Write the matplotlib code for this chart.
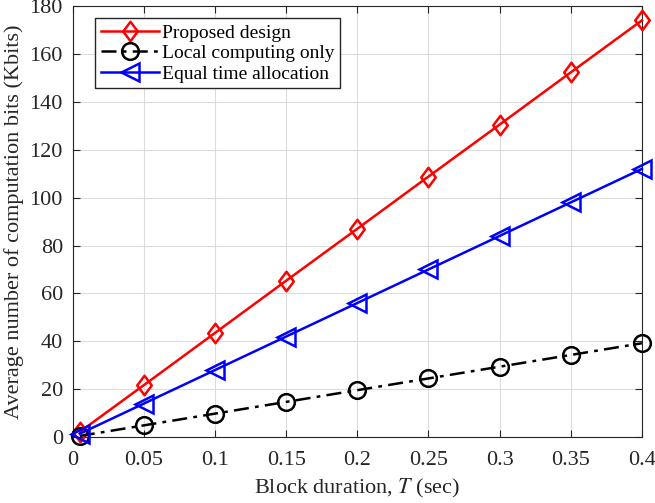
import matplotlib.pyplot as plt
from matplotlib.path import Path

# block durations (sec)
T = [0.005, 0.05, 0.1, 0.15, 0.2, 0.25, 0.3, 0.35, 0.4]

# average computation bits (Kbits)
proposed = [2.2, 21.7, 43.5, 65.3, 87.0, 108.8, 130.5, 152.3, 174.0]
local_only = [0.5, 4.9, 9.8, 14.7, 19.6, 24.5, 29.4, 34.3, 39.2]
equal_time = [1.4, 14.0, 28.0, 42.0, 56.0, 70.0, 84.0, 98.0, 112.0]

plt.rcParams['font.family'] = ['Liberation Serif', 'DejaVu Serif']
plt.rcParams['mathtext.fontset'] = 'stix'

# slightly tall diamond like the matlab one
tall_diamond = Path([(0, 1), (0.75, 0), (0, -1), (-0.75, 0), (0, 1)],
                    [Path.MOVETO, Path.LINETO, Path.LINETO, Path.LINETO, Path.CLOSEPOLY])

fig = plt.figure(figsize=(6.55, 5.03), dpi=100)
ax = fig.add_axes([0.111, 0.131, 0.869, 0.857])

ax.plot(T, proposed, color='red', marker=tall_diamond, markersize=14, markerfacecolor='none',
        markeredgewidth=1.8, linewidth=1.8, label='Proposed design', clip_on=False, zorder=3)
ax.plot(T, local_only, color='black', marker='o', markersize=12, markerfacecolor='none',
        markeredgewidth=1.8, linewidth=1.8, linestyle=(0, (6, 2.5, 1.5, 2.5)),
        label='Local computing only', clip_on=False, zorder=3)
ax.plot(T, equal_time, color='blue', marker='<', markersize=13, markerfacecolor='none',
        markeredgewidth=1.8, linewidth=1.8, label='Equal time allocation', clip_on=False, zorder=3)

ax.set_xlim(0, 0.4)
ax.set_ylim(0, 180)
ax.set_xticks([0, 0.05, 0.1, 0.15, 0.2, 0.25, 0.3, 0.35, 0.4])
ax.set_xticklabels(['0', '0.05', '0.1', '0.15', '0.2', '0.25', '0.3', '0.35', '0.4'])
ax.set_yticks(range(0, 181, 20))
ax.tick_params(direction='in', top=True, right=True, labelsize=16, colors='#262626',
               length=5)
ax.tick_params(axis='x', pad=10)
ax.tick_params(axis='y', pad=7)
ax.grid(True, color='#dcdcdc', linewidth=0.8)
for s in ax.spines.values():
    s.set_color('#262626')

ax.set_xlabel('Block duration, $T$ (sec)', fontsize=16, color='#262626', labelpad=5)
ax.set_ylabel('Average number of computation bits (Kbits)', fontsize=16, color='#262626', labelpad=4)

leg = ax.legend(loc='upper left', bbox_to_anchor=(0.0387, 0.972), fontsize=14, fancybox=False,
                framealpha=1, edgecolor='#262626', handlelength=3.0, borderpad=0.3,
                labelspacing=0.15, handletextpad=0.15, borderaxespad=0)
leg.get_frame().set_linewidth(1)

plt.savefig('out.png', dpi=100)
